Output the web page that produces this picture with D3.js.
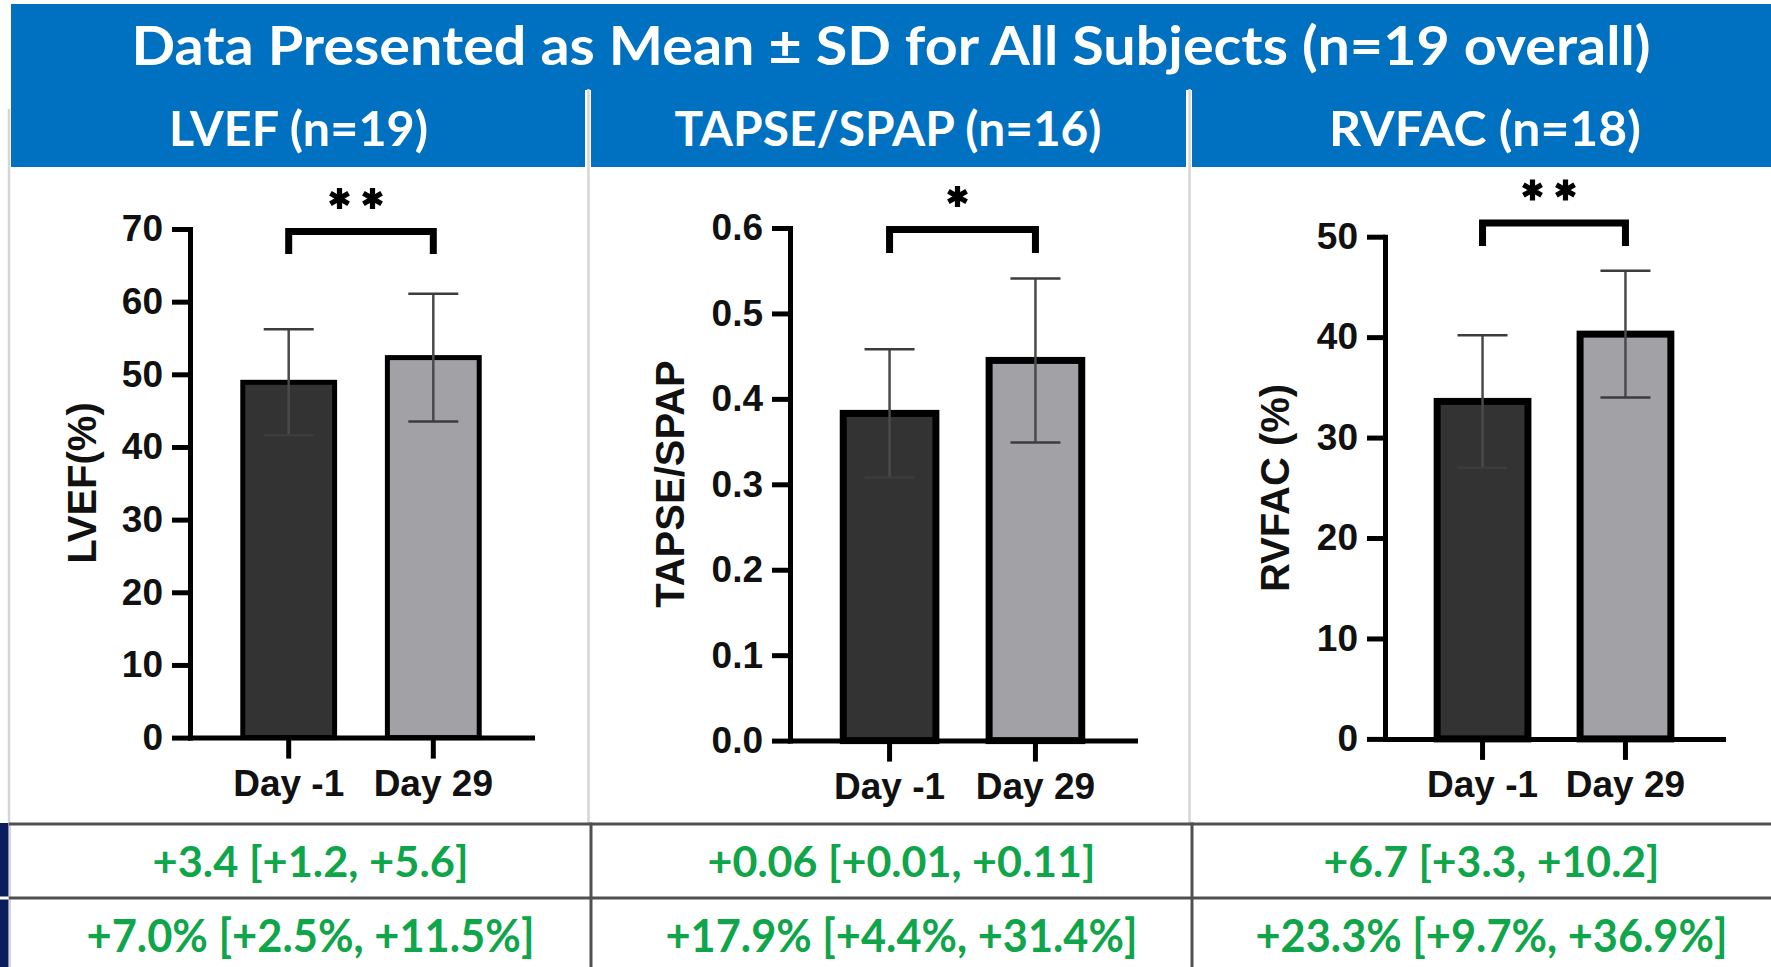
<!DOCTYPE html>
<html>
<head>
<meta charset="utf-8">
<script src="https://cdn.jsdelivr.net/npm/d3@7"></script>
<style>
  html, body { margin: 0; padding: 0; background: #ffffff; }
  svg { display: block; }
</style>
</head>
<body>
<svg id="chart" width="1771" height="967"></svg>
<script>
// ---------- data ----------
const mainTitle = "Data Presented as Mean \u00B1 SD for All Subjects (n=19 overall)";
const panelTitles = ["LVEF (n=19)", "TAPSE/SPAP (n=16)", "RVFAC (n=18)"];
const yAxisTitles = ["LVEF(%)", "TAPSE/SPAP", "RVFAC (%)"];
const visits = ["Day -1", "Day 29"];

const lvefMean = [48.9, 52.3];
const lvefSD = [7.3, 8.8];
const tapseMean = [0.383, 0.445];
const tapseSD = [0.075, 0.096];
const rvfacMean = [33.6, 40.3];
const rvfacSD = [6.6, 6.3];

const lvefTicks = [0, 10, 20, 30, 40, 50, 60, 70];
const tapseTicks = [0, 0.1, 0.2, 0.3, 0.4, 0.5, 0.6];
const rvfacTicks = [0, 10, 20, 30, 40, 50];

const significance = ["**", "*", "**"];
const meanChange = ["+3.4 [+1.2, +5.6]", "+0.06 [+0.01, +0.11]", "+6.7 [+3.3, +10.2]"];
const pctChange = ["+7.0% [+2.5%, +11.5%]", "+17.9% [+4.4%, +31.4%]", "+23.3% [+9.7%, +36.9%]"];

// ---------- styling ----------
const BLUE = "#0070c0";
const NAVY = "#0b1d5a";
const GREEN = "#0fa54a";
const BAR_FILL = ["#333333", "#a2a1a6"];
const HEAD_FONT = "Lato, 'Open Sans', sans-serif";
const AXIS_FONT = "'Liberation Sans', Arial, sans-serif";

// per-panel layout (pixels)
const layout = [
  { axisX: 190, xEnd: 532, yBottom: 737.6, yTop: 229, barStroke: 5, fmt: d3.format("d"),
    titleBaseX: 96, titleY: 483, bracketY: 231.6, legY: 254,
    head: [11, 585], headWidth: 259, headCx: 298.5,
    cell: [10, 591], rowW: [316, 448] },
  { axisX: 790, xEnd: 1135, yBottom: 740.6, yTop: 228, barStroke: 7, fmt: d3.format(".1f"),
    titleBaseX: 684, titleY: 484, bracketY: 229.6, legY: 253,
    head: [591, 1186], headWidth: 427, headCx: 888,
    cell: [591, 1192], rowW: [388, 472] },
  { axisX: 1385, xEnd: 1723, yBottom: 738.9, yTop: 236.7, barStroke: 7, fmt: d3.format("d"),
    titleBaseX: 1289, titleY: 488, bracketY: 223, legY: 246,
    head: [1192, 1771], headWidth: 312, headCx: 1485,
    cell: [1192, 1771], rowW: [336, 472] }
];

const panels = [
  { means: lvefMean, sds: lvefSD, ticks: lvefTicks },
  { means: tapseMean, sds: tapseSD, ticks: tapseTicks },
  { means: rvfacMean, sds: rvfacSD, ticks: rvfacTicks }
].map((p, i) => Object.assign(p, {
  title: panelTitles[i], yTitle: yAxisTitles[i], sig: significance[i],
  change: meanChange[i], pct: pctChange[i], L: layout[i]
}));

const svg = d3.select("#chart");
svg.append("rect").attr("width", 1771).attr("height", 967).attr("fill", "#ffffff");

// ---------- banner ----------
svg.append("rect").attr("x", 11).attr("y", 4).attr("width", 1760).attr("height", 86).attr("fill", BLUE);
svg.append("text")
  .attr("x", 891).attr("y", 65)
  .attr("text-anchor", "middle")
  .attr("textLength", 1519).attr("lengthAdjust", "spacingAndGlyphs")
  .style("font-family", HEAD_FONT).style("font-weight", 700).style("font-size", "53px")
  .attr("fill", "#ffffff")
  .text(mainTitle);

// panel separators (light grey)
[9, 588.5, 1189.5].forEach((x, i) => {
  svg.append("line")
    .attr("x1", x).attr("x2", x)
    .attr("y1", i === 0 ? 109 : 89).attr("y2", 823)
    .attr("stroke", "#d6d6d6").attr("stroke-width", 2.5);
});

// ---------- panels ----------
panels.forEach(p => {
  const L = p.L;

  // header cell
  svg.append("rect")
    .attr("x", L.head[0]).attr("y", 89)
    .attr("width", L.head[1] - L.head[0]).attr("height", 78)
    .attr("fill", BLUE);
  svg.append("text")
    .attr("x", L.headCx).attr("y", 146)
    .attr("text-anchor", "middle")
    .attr("textLength", L.headWidth).attr("lengthAdjust", "spacingAndGlyphs")
    .style("font-family", HEAD_FONT).style("font-weight", 700).style("font-size", "48px")
    .attr("fill", "#ffffff")
    .text(p.title);

  const x = d3.scaleBand().domain(visits).range([L.axisX, L.xEnd])
    .paddingInner(0.365).paddingOuter(0.365);
  const y = d3.scaleLinear().domain([0, d3.max(p.ticks)]).range([L.yBottom, L.yTop]);

  const g = svg.append("g");

  // bars
  g.selectAll("rect.bar").data(visits).join("rect")
    .attr("class", "bar")
    .attr("x", d => x(d))
    .attr("width", x.bandwidth())
    .attr("y", (d, i) => y(p.means[i]))
    .attr("height", (d, i) => y(0) - y(p.means[i]))
    .attr("fill", (d, i) => BAR_FILL[i])
    .attr("stroke", "#000000")
    .attr("stroke-width", L.barStroke);

  // error bars (mean ± SD)
  const eb = g.selectAll("g.err").data(visits).join("g").attr("class", "err");
  eb.append("line")
    .attr("x1", d => x(d) + x.bandwidth() / 2).attr("x2", d => x(d) + x.bandwidth() / 2)
    .attr("y1", (d, i) => y(p.means[i] + p.sds[i]))
    .attr("y2", (d, i) => y(p.means[i] - p.sds[i]))
    .attr("stroke", "#4a4a4a").attr("stroke-width", 2.5);
  [1, -1].forEach(sgn => {
    eb.append("line")
      .attr("x1", d => x(d) + x.bandwidth() / 2 - 25)
      .attr("x2", d => x(d) + x.bandwidth() / 2 + 25)
      .attr("y1", (d, i) => y(p.means[i] + sgn * p.sds[i]))
      .attr("y2", (d, i) => y(p.means[i] + sgn * p.sds[i]))
      .attr("stroke", "#3c3c3c").attr("stroke-width", 2.5);
  });

  // y axis
  const yAxis = g.append("g")
    .attr("transform", `translate(${L.axisX},0)`)
    .call(d3.axisLeft(y).tickValues(p.ticks).tickFormat(L.fmt)
      .tickSize(18).tickSizeOuter(0).tickPadding(9));
  // x axis
  const xAxis = g.append("g")
    .attr("transform", `translate(0,${L.yBottom})`)
    .call(d3.axisBottom(x).tickSize(21).tickSizeOuter(0).tickPadding(11));

  [yAxis, xAxis].forEach(ax => {
    ax.select(".domain").attr("stroke", "#000").attr("stroke-width", 5).attr("stroke-linecap", "square");
    ax.selectAll(".tick line").attr("stroke", "#000").attr("stroke-width", 5);
    ax.selectAll(".tick text")
      .attr("fill", "#111111")
      .style("font-family", AXIS_FONT).style("font-weight", 700).style("font-size", "37px");
  });

  // y axis title
  svg.append("text")
    .attr("transform", `translate(${L.titleBaseX},${L.titleY}) rotate(-90)`)
    .attr("text-anchor", "middle")
    .style("font-family", AXIS_FONT).style("font-weight", 700).style("font-size", "40px")
    .attr("fill", "#111111")
    .text(p.yTitle);

  // significance bracket
  const c1 = x(visits[0]) + x.bandwidth() / 2;
  const c2 = x(visits[1]) + x.bandwidth() / 2;
  g.append("path")
    .attr("d", `M${c1},${L.legY}V${L.bracketY}H${c2}V${L.legY}`)
    .attr("fill", "none").attr("stroke", "#000").attr("stroke-width", 7)
    .attr("stroke-linejoin", "miter");

  const r = 10.5;
  const star = d3.symbol().type(d3.symbolAsterisk).size((r / 0.59436) ** 2 - 0.75);
  const n = p.sig.length;
  const mid = (c1 + c2) / 2 - 5;
  d3.range(n).forEach(k => {
    g.append("path")
      .attr("d", star())
      .attr("transform", `translate(${mid + (k - (n - 1) / 2) * 33},${L.bracketY - 33})`)
      .attr("fill", "none").attr("stroke", "#000").attr("stroke-width", 5.2);
  });
});

// ---------- summary table ----------
const rowY = [824, 898];
const tbl = svg.append("g");
tbl.append("rect").attr("x", 0).attr("y", 823).attr("width", 8.5).attr("height", 144).attr("fill", NAVY);
tbl.append("rect").attr("x", 0).attr("y", 896.5).attr("width", 8.5).attr("height", 3).attr("fill", "#ffffff");
tbl.append("line").attr("x1", 10).attr("x2", 10).attr("y1", 823).attr("y2", 967)
  .attr("stroke", "#d6d6d6").attr("stroke-width", 2);
rowY.forEach(yy => {
  tbl.append("line").attr("x1", 9).attr("x2", 1771).attr("y1", yy).attr("y2", yy)
    .attr("stroke", "#505050").attr("stroke-width", 3);
});
[591, 1192].forEach(xx => {
  tbl.append("line").attr("x1", xx).attr("x2", xx).attr("y1", 822.5).attr("y2", 967)
    .attr("stroke", "#505050").attr("stroke-width", 3);
});

panels.forEach(p => {
  const cx = (p.L.cell[0] + p.L.cell[1]) / 2 + 10;
  tbl.append("text")
    .attr("x", cx).attr("y", 877)
    .attr("text-anchor", "middle")
    .attr("textLength", p.L.rowW[0]).attr("lengthAdjust", "spacingAndGlyphs")
    .style("font-family", HEAD_FONT).style("font-weight", 700).style("font-size", "42px")
    .attr("fill", GREEN)
    .text(p.change);
  tbl.append("text")
    .attr("x", cx).attr("y", 952)
    .attr("text-anchor", "middle")
    .attr("textLength", p.L.rowW[1]).attr("lengthAdjust", "spacingAndGlyphs")
    .style("font-family", HEAD_FONT).style("font-weight", 700).style("font-size", "46px")
    .attr("fill", GREEN)
    .text(p.pct);
});
</script>
</body>
</html>
